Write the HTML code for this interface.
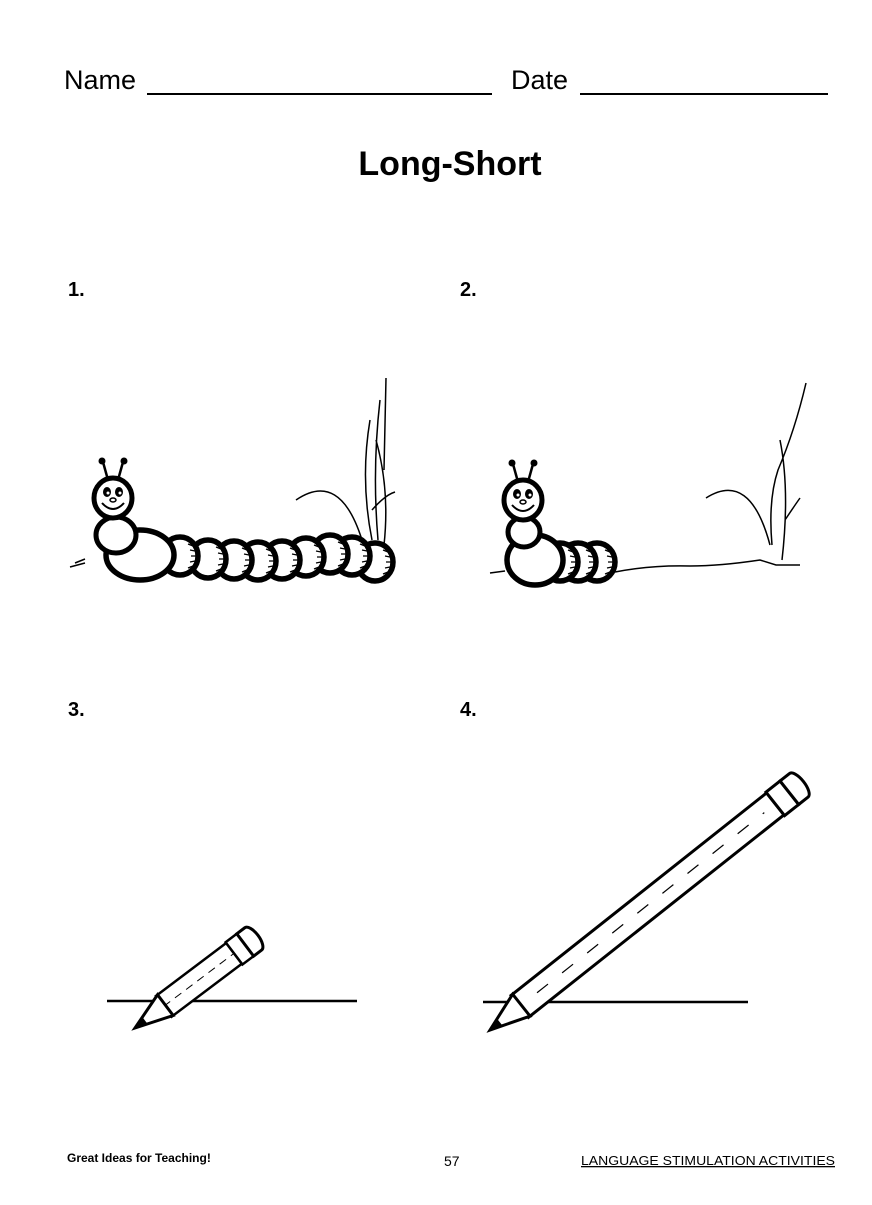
<!DOCTYPE html>
<html><head><style>
body{margin:0;background:#fff;width:872px;height:1200px;overflow:hidden;font-family:"Liberation Sans",Arial,sans-serif}
</style></head><body>
<svg width="872" height="1200" viewBox="0 0 872 1200" xmlns="http://www.w3.org/2000/svg" font-family="Liberation Sans, Arial, sans-serif">
<defs>
<g id="seg">
<ellipse cx="0" cy="0" rx="18" ry="19" fill="#fff" stroke="#000" stroke-width="5.5"/>
<path d="M8,-12 l5,2 M10,-6 l5,1 M11,0 l5,0 M10,6 l5,-1 M8,12 l5,-2" stroke="#000" stroke-width="1.3"/>
</g>
<g id="head">
<line x1="-5" y1="-18" x2="-10" y2="-36" stroke="#000" stroke-width="2.5"/>
<line x1="5" y1="-18" x2="10" y2="-36" stroke="#000" stroke-width="2.5"/>
<circle cx="-11" cy="-37" r="3.5"/><circle cx="11" cy="-37" r="3.5"/>
<ellipse cx="0" cy="0" rx="19" ry="20" fill="#fff" stroke="#000" stroke-width="5"/>
<ellipse cx="-6" cy="-6" rx="4" ry="5" fill="#000"/><ellipse cx="6" cy="-6" rx="4" ry="5" fill="#000"/>
<circle cx="-5" cy="-5" r="1.5" fill="#fff"/><circle cx="7" cy="-5" r="1.5" fill="#fff"/>
<ellipse cx="0" cy="2" rx="3" ry="2" fill="#fff" stroke="#000" stroke-width="1.5"/>
<path d="M-11,5 Q0,17 11,5" fill="none" stroke="#000" stroke-width="2"/>
</g>
</defs>
<text x="64" y="89" font-size="27">Name</text>
<line x1="147" y1="94" x2="492" y2="94" stroke="#000" stroke-width="2"/>
<text x="511" y="89" font-size="27">Date</text>
<line x1="580" y1="94" x2="828" y2="94" stroke="#000" stroke-width="2"/>
<text x="450" y="175" font-size="34" font-weight="bold" text-anchor="middle">Long-Short</text>
<g font-size="20" font-weight="bold">
<text x="68" y="296">1.</text><text x="460" y="296">2.</text>
<text x="68" y="716">3.</text><text x="460" y="716">4.</text>
</g>
<g fill="none" stroke="#000" stroke-width="1.5">
<path d="M386,378 L384,470 M380,400 Q372,470 378,540 M370,420 Q360,480 372,540 M376,440 Q390,490 384,545 M296,500 Q340,470 362,540 M372,510 Q385,495 395,492"/>
<path d="M806,383 Q795,430 778,470 Q768,500 772,545 M780,440 Q790,490 782,560 M706,498 Q750,470 770,545 M785,520 Q795,505 800,498 M615,572 Q650,565 690,566 Q720,566 760,560 L776,565 L800,565"/>
<path d="M70,567 l15,-4 M75,563 l10,-4 M490,573 l15,-2"/>
</g>
<g>
<use href="#seg" x="375" y="562"/>
<use href="#seg" x="352" y="556"/><use href="#seg" x="330" y="554"/><use href="#seg" x="306" y="557"/>
<use href="#seg" x="282" y="560"/><use href="#seg" x="258" y="561"/><use href="#seg" x="234" y="560"/>
<use href="#seg" x="208" y="559"/><use href="#seg" x="180" y="556"/>
<ellipse cx="140" cy="555" rx="34" ry="25" fill="#fff" stroke="#000" stroke-width="5.5"/>
<ellipse cx="116" cy="535" rx="20" ry="18" fill="#fff" stroke="#000" stroke-width="5"/>
<use href="#head" x="113" y="498"/>
</g>
<g>
<use href="#seg" x="597" y="562"/><use href="#seg" x="578" y="562"/><use href="#seg" x="560" y="562"/>
<ellipse cx="535" cy="560" rx="28" ry="25" fill="#fff" stroke="#000" stroke-width="5.5"/>
<ellipse cx="524" cy="532" rx="16" ry="15" fill="#fff" stroke="#000" stroke-width="5"/>
<use href="#head" x="523" y="500"/>
</g>
<line x1="107" y1="1001" x2="357" y2="1001" stroke="#000" stroke-width="2.5"/>
<line x1="483" y1="1002" x2="748" y2="1002" stroke="#000" stroke-width="2.5"/>
<g transform="translate(135,1028) rotate(-37)" stroke="#000" fill="#fff">
<rect x="36" y="-13" width="88" height="26" stroke-width="2.5"/>
<line x1="36" y1="0" x2="124" y2="0" stroke-width="1" stroke-dasharray="8 6"/>
<path d="M0,0 L38,-13 L38,13 Z" stroke-width="3"/>
<path d="M0,0 L12,-4 L12,4 Z" fill="#000"/>
<rect x="124" y="-14" width="14" height="28" stroke-width="2.5"/>
<path d="M138,-14 h10 a6,14 0 0 1 0,28 h-10 Z" stroke-width="3"/>
</g>
<g transform="translate(490,1030) rotate(-38.4)" stroke="#000" fill="#fff">
<rect x="38" y="-14" width="326" height="28" stroke-width="3"/>
<line x1="60" y1="0" x2="350" y2="0" stroke-width="1.2" stroke-dasharray="14 18"/>
<path d="M0,0 L40,-14 L40,14 Z" stroke-width="3"/>
<path d="M0,0 L12,-4 L12,4 Z" fill="#000"/>
<rect x="364" y="-15" width="18" height="30" stroke-width="3"/>
<path d="M382,-15 h12 a6,15 0 0 1 0,30 h-12 Z" stroke-width="3"/>
</g>
<text x="67" y="1162" font-size="12" font-weight="bold">Great Ideas for Teaching!</text>
<text x="444" y="1166" font-size="14">57</text>
<text x="581" y="1165" font-size="13" textLength="254" lengthAdjust="spacingAndGlyphs" text-decoration="underline">LANGUAGE STIMULATION ACTIVITIES</text>
</svg>
</body></html>
